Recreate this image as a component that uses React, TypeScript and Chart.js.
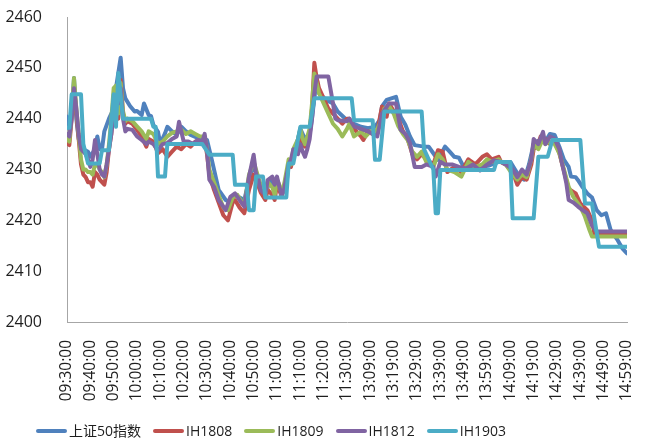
import React, { useEffect, useRef } from "react";
import { Chart, registerables } from "chart.js";

Chart.register(...registerables);

// Tick labels on the time axis (one every 10 trading minutes; index 0 = 09:30, 120 = 11:30, 121 = 13:00, 240 = 14:59)
const tickLabels = [
  "09:30:00", "09:40:00", "09:50:00", "10:00:00", "10:10:00", "10:20:00", "10:30:00",
  "10:40:00", "10:50:00", "11:00:00", "11:10:00", "11:20:00", "11:30:00", "13:09:00",
  "13:19:00", "13:29:00", "13:39:00", "13:49:00", "13:59:00", "14:09:00", "14:19:00",
  "14:29:00", "14:39:00", "14:49:00", "14:59:00",
];

const seriesNames = ["上证50指数", "IH1808", "IH1809", "IH1812", "IH1903"];
const seriesColors = ["#4F81BD", "#C0504D", "#9BBB59", "#8064A2", "#4BACC6"];

// [minute index, value]
const sz50: [number, number][] = [
  [0,2440.4],[1,2438],[2,2441],[3,2448],[4,2440],[5,2436],[7,2434],[9,2433.5],[10,2432.5],[12,2434],[13,2436.5],[14,2434],[15,2434],[16,2437.5],[18,2440],[20,2442],[21,2446],[23,2452],[24,2446],[25,2444],[27,2442.5],[29,2441.4],[30,2441.5],[32,2440.7],[33,2443],[35,2440.7],[36,2440.5],[37,2438.8],[39,2437.4],[40,2435.1],[42,2437.1],[43,2438.4],[45,2437.5],[47,2436.8],[49,2438.4],[51,2437.5],[53,2436.8],[57,2436],[60,2435.8],[62,2432],[64,2428],[65,2426],[68,2424],[70,2423.5],[72,2425],[74,2424.5],[76,2424],[78,2428],[80,2431],[82,2428],[83,2426],[85,2425],[87,2428],[88,2427],[90,2427],[92,2425],[94,2427],[95,2431],[97,2432],[99,2436],[100,2438],[102,2436],[104,2437],[105,2440],[107,2448],[108,2445],[111,2443.7],[114,2443],[116,2441.4],[120,2439.7],[121,2439.7],[123,2439],[126,2438.4],[129,2438.1],[132,2438.4],[134,2439.7],[135,2442.4],[137,2443.7],[141,2444.3],[143,2440.4],[145,2438.8],[147,2436.5],[149,2434.8],[153,2434.5],[155,2434.5],[157,2433.2],[159,2431.9],[162,2434.5],[164,2433.5],[166,2432.5],[168,2432.3],[170,2430.5],[173,2430.3],[177,2430.5],[181,2430.8],[185,2431.5],[190,2431.5],[192,2430],[194,2428.5],[196,2428],[198,2431],[200,2435],[203,2436],[205,2435.5],[207,2437],[209,2436.8],[211,2434.5],[213,2431.9],[215,2430.5],[216,2428.6],[218,2428.5],[219,2427.9],[221,2426.5],[223,2425.3],[225,2424.5],[227,2422],[229,2421],[231,2421.4],[233,2418.1],[236,2416.1],[238,2414.5],[240,2413.5],
];

const ih1808: [number, number][] = [
  [0,2435.2],[1,2434.8],[2,2440],[3,2446.5],[4,2441],[5,2436],[6,2431],[7,2429],[8,2428.5],[9,2427.5],[10,2427.5],[11,2426.6],[12,2429.5],[13,2429],[14,2428],[15,2427.5],[16,2427],[17,2429.5],[18,2434],[19,2437],[20,2444],[21,2445.6],[22,2440],[23,2447.6],[24,2441],[25,2439],[26,2439.5],[28,2439],[30,2437.8],[32,2436.5],[34,2434.5],[35,2436],[37,2435.5],[39,2433.2],[41,2434],[43,2432.5],[45,2433.5],[47,2434.5],[49,2434],[51,2435],[53,2434.5],[55,2435.5],[57,2435],[59,2436],[60,2433],[61,2429],[63,2426],[65,2423.5],[67,2421],[69,2420],[71,2423.5],[72,2424],[74,2422.5],[76,2421.4],[78,2426],[80,2429],[81,2428],[83,2425.5],[85,2424],[86,2426],[88,2425],[89,2424],[90,2427],[91,2426],[92,2424.6],[93,2426.5],[95,2431],[96,2430.5],[97,2433],[99,2435],[100,2437],[101,2435],[102,2434.5],[103,2436],[104,2437.5],[105,2442],[106,2451],[107,2448],[108,2446],[110,2444],[112,2442],[114,2441],[116,2440],[118,2439],[120,2440],[121,2440],[123,2438],[126,2436.5],[127,2435.8],[129,2437.5],[131,2437],[133,2437.5],[135,2442.4],[137,2440.4],[138,2443],[140,2441.5],[142,2440],[144,2437.5],[146,2436],[148,2433],[150,2432],[152,2433],[154,2432],[157,2431],[159,2433.8],[161,2433.5],[163,2429.5],[166,2430.5],[169,2429.5],[172,2432],[175,2431],[178,2432.5],[180,2433],[182,2432],[185,2432.5],[186,2431.5],[188,2431],[191,2429.5],[193,2427],[195,2428.5],[197,2428],[199,2431],[200,2434],[202,2435],[203,2436.5],[205,2436],[207,2435],[209,2435.5],[211,2433.2],[214,2427.9],[215,2426.2],[218,2425.3],[220,2423.3],[223,2422],[225,2420],[226,2417.4],[240,2417.4],
];

const ih1809: [number, number][] = [
  [0,2436],[1,2435.5],[2,2441],[3,2448],[4,2442],[5,2437],[6,2432],[7,2430],[8,2430],[9,2429.5],[10,2429.5],[11,2429],[12,2431],[13,2431],[14,2430],[15,2429.5],[16,2428.5],[17,2431],[18,2435],[19,2440],[20,2446],[21,2446.5],[22,2441],[23,2447],[24,2441.5],[25,2439.5],[26,2440],[28,2439.5],[30,2438.5],[32,2437.5],[34,2436],[35,2437.5],[37,2437],[39,2435],[41,2435.5],[43,2436.5],[45,2437.2],[47,2437.5],[49,2437.8],[51,2437],[53,2437.5],[55,2437],[57,2436.5],[59,2436.5],[60,2434],[61,2430],[63,2427.5],[65,2425],[67,2422.5],[69,2422],[71,2424.5],[73,2425],[75,2423.5],[76,2423],[78,2429],[80,2431.5],[81,2430],[83,2427],[85,2425],[86,2427.5],[88,2426.5],[89,2425],[90,2428],[91,2427],[92,2425],[93,2427],[95,2432],[96,2431],[97,2434],[99,2436],[100,2438],[101,2436],[102,2435],[103,2436.5],[104,2438],[105,2443],[106,2448.9],[107,2447],[108,2445],[110,2443],[112,2441],[114,2439],[116,2438],[118,2436.5],[120,2438],[121,2439],[123,2436.5],[126,2437.5],[128,2436.5],[130,2437.5],[132,2437],[134,2439],[136,2442],[138,2442.5],[140,2441],[142,2438.5],[144,2437],[146,2435.8],[148,2433.5],[150,2432.5],[152,2433.5],[154,2431.5],[157,2430.5],[159,2433],[161,2432],[163,2430],[166,2429.5],[169,2428.6],[172,2431.5],[175,2430.5],[178,2431],[180,2432],[182,2431.5],[185,2432],[186,2431.5],[188,2431],[191,2429],[193,2428],[195,2429],[197,2428.5],[199,2432],[200,2435],[202,2434],[204,2436],[205,2435],[207,2435.5],[209,2435],[211,2433.2],[213,2430],[215,2426.6],[217,2424.6],[220,2422.7],[222,2420.7],[224,2418],[225,2416.8],[240,2416.8],
];

const ih1812: [number, number][] = [
  [0,2437],[1,2436.5],[2,2440],[3,2446],[4,2442],[5,2437],[6,2434],[7,2433.5],[8,2433],[9,2432],[10,2430.5],[11,2432],[12,2435.8],[13,2433],[14,2430],[15,2429],[16,2428.6],[17,2431],[18,2434],[19,2437],[20,2441],[21,2444],[22,2443],[23,2446],[24,2440],[25,2437.5],[26,2438],[28,2437.8],[30,2436.5],[32,2435.8],[34,2435],[35,2435.5],[37,2435],[39,2433.8],[41,2435],[43,2435.2],[45,2436],[47,2436.5],[48,2439.4],[50,2435.5],[52,2435.5],[54,2435],[56,2435.8],[58,2435.5],[59,2437],[60,2433.8],[61,2428],[63,2426.6],[65,2424],[68,2422],[70,2424.6],[72,2425.3],[75,2423.3],[76,2422.7],[78,2428.6],[80,2432.9],[81,2429.2],[82,2428],[83,2426],[85,2425],[86,2427.9],[88,2428.6],[89,2427],[90,2428.6],[91,2426.6],[92,2425],[93,2426],[95,2431],[96,2432],[97,2434],[99,2433],[100,2435],[101,2433.5],[102,2432.5],[103,2434],[104,2436],[105,2440],[106,2445],[107,2448.3],[112,2448.3],[114,2443],[115,2440],[116,2439.7],[120,2439.5],[121,2440],[123,2438.5],[126,2438],[129,2437.5],[131,2437],[133,2436.5],[135,2441],[138,2443],[141,2443],[143,2437.8],[145,2437],[147,2435.2],[149,2430.5],[152,2430.5],[154,2431],[157,2430.5],[158,2428.6],[160,2431.5],[162,2431],[165,2431],[168,2430.5],[171,2430.2],[174,2431],[177,2429.8],[180,2431],[183,2431.8],[186,2431.5],[188,2431],[191,2430],[193,2428.5],[195,2430],[197,2429],[199,2432],[200,2436],[202,2435],[204,2437.4],[205,2435],[207,2436.5],[209,2436],[211,2434],[212,2431.5],[213,2429.5],[214,2427.3],[215,2424],[217,2423.5],[219,2422.7],[221,2422],[223,2421.4],[225,2419],[227,2417.8],[240,2417.8],
];

const ih1903: [number, number][] = [
  [0,2438.2],[1,2438.2],[2,2444.8],[6,2444.8],[7,2435],[9,2431.2],[14,2431.2],[15,2433.8],[18,2433.8],[20,2444.8],[21,2438.4],[22,2449],[24,2440],[36,2440],[37,2438.4],[38,2438.4],[39,2428.6],[42,2428.6],[43,2435],[58,2435],[61,2432.9],[71,2432.9],[72,2427],[77,2427],[78,2422],[80,2422],[81,2428.6],[84,2428.6],[85,2424.5],[94,2424.5],[95,2431.2],[97,2431.2],[100,2438.4],[104,2438.4],[106,2444],[122,2444],[123,2439.7],[131,2439.7],[132,2431.9],[134,2431.9],[136,2441.4],[152,2441.4],[153,2434],[157,2430],[158,2421.4],[159,2421.4],[160,2429.9],[183,2429.9],[184,2431.5],[190,2431.5],[191,2420.4],[200,2420.4],[202,2432.5],[206,2432.5],[208,2435.8],[220,2435.8],[222,2423.3],[225,2423.3],[228,2414.8],[240,2414.8],
];

const allSeries = [sz50, ih1808, ih1809, ih1812, ih1903];

const FONT = "'Open Sans', 'Noto Sans CJK SC', sans-serif";
const TEXT = "#1e1e1e";
const AXIS = "#a6a6a6";

export default function App() {
  const ref = useRef<HTMLCanvasElement | null>(null);

  useEffect(() => {
    if (!ref.current) return;
    const chart = new Chart(ref.current, {
      type: "line",
      data: {
        datasets: allSeries.map((s, i) => ({
          label: seriesNames[i],
          data: s.map(([x, y]) => ({ x, y })),
          borderColor: seriesColors[i],
          backgroundColor: seriesColors[i],
          borderWidth: 4,
          pointRadius: 0,
          tension: 0,
          fill: false,
          borderJoinStyle: "round" as const,
          borderCapStyle: "round" as const,
          order: allSeries.length - i,
        })),
      },
      options: {
        responsive: false,
        animation: false,
        layout: { padding: { left: 0, right: 19, top: 17, bottom: 35 } },
        plugins: {
          legend: { display: false },
          tooltip: { enabled: false },
        },
        scales: {
          x: {
            type: "linear",
            min: 0,
            max: 240,
            grid: { display: false },
            border: { display: true, color: AXIS, width: 1 },
            ticks: {
              stepSize: 10,
              autoSkip: false,
              maxRotation: 90,
              minRotation: 90,
              padding: 10,
              color: TEXT,
              font: { family: FONT, size: 15.5 },
              callback: (v: any) => tickLabels[Math.round(Number(v) / 10)] ?? "",
            },
            afterFit: (s: any) => {
              s.height = 84;
              s.paddingLeft = 0;
              s.paddingRight = 0;
            },
          },
          y: {
            min: 2400,
            max: 2460,
            grid: { display: false },
            border: { display: true, color: AXIS, width: 1 },
            ticks: {
              stepSize: 10,
              padding: 17,
              color: TEXT,
              font: { family: FONT, size: 16 },
              callback: (v: any) => String(v),
            },
            afterFit: (s: any) => {
              s.width = 67;
              s.paddingTop = 0;
              s.paddingBottom = 0;
            },
          },
        },
      },
    });
    return () => chart.destroy();
  }, []);

  return (
    <div
      style={{
        position: "fixed",
        left: 0,
        top: 0,
        width: 646,
        height: 441,
        overflow: "hidden",
        background: "#fff",
      }}
    >
      <canvas ref={ref} width={646} height={441} style={{ display: "block" }} />
      <div
        style={{
          position: "absolute",
          left: 36,
          top: 421,
          display: "flex",
          alignItems: "center",
          fontFamily: FONT,
          fontSize: 14,
          color: TEXT,
          whiteSpace: "nowrap",
          lineHeight: "20px",
        }}
      >
        {seriesNames.map((n, i) => (
          <div key={n} style={{ display: "flex", alignItems: "center", marginRight: 12 }}>
            <span
              style={{
                display: "inline-block",
                width: 31,
                height: 4,
                borderRadius: 2,
                background: seriesColors[i],
                marginRight: 2,
              }}
            />
            <span>{n}</span>
          </div>
        ))}
      </div>
    </div>
  );
}
